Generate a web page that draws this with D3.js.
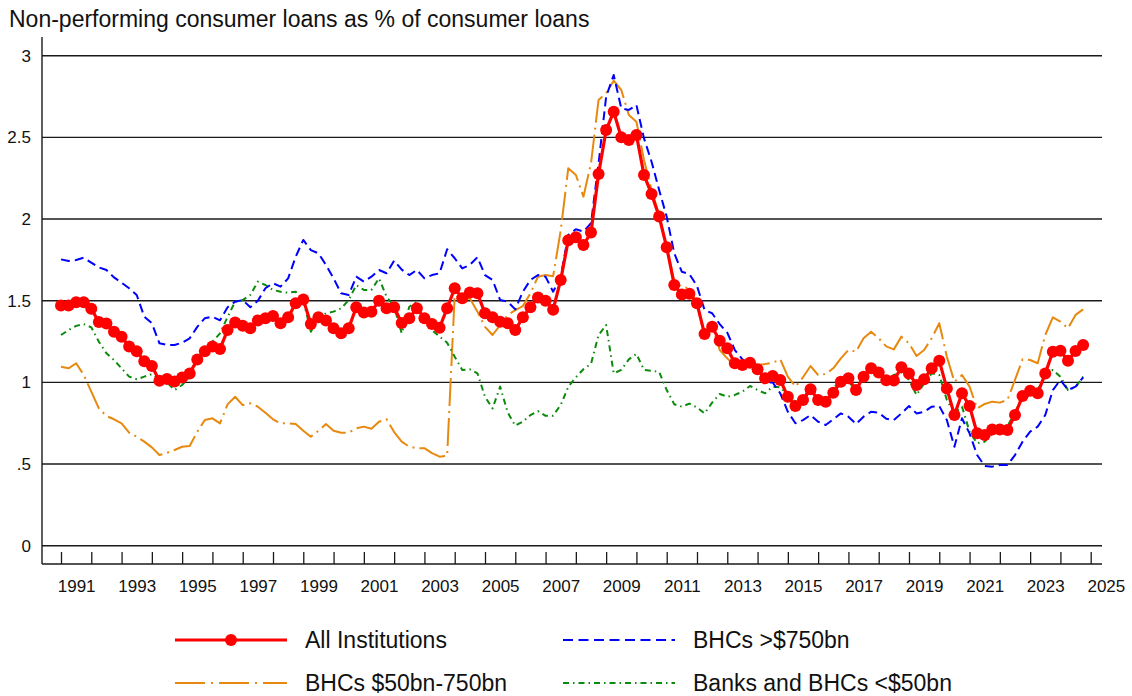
<!DOCTYPE html>
<html>
<head>
<meta charset="utf-8">
<script src="https://cdn.jsdelivr.net/npm/d3@7"></script>
<style>
  html, body { margin: 0; padding: 0; background: #ffffff; }
  svg { display: block; }
  text { font-family: "Liberation Sans", Arial, Helvetica, sans-serif; fill: #111; }
</style>
</head>
<body>
<svg id="chart" width="1132" height="696"></svg>
<script>
// ---------------- DATA (quarterly, 1991Q1 .. 2024Q4) ----------------
const startYear = 1991;
const title = "Non-performing consumer loans as % of consumer loans";
const yTicks = [0, 0.5, 1, 1.5, 2, 2.5, 3];
const yTickLabels = ["0", ".5", "1", "1.5", "2", "2.5", "3"];
const xLabelYears = [1991, 1993, 1995, 1997, 1999, 2001, 2003, 2005, 2007, 2009, 2011, 2013, 2015, 2017, 2019, 2021, 2023, 2025];
const xTickYears = d3.range(1991, 2026);

const allInstitutions = [
  1.47, 1.47, 1.49, 1.49, 1.45, 1.37, 1.36, 1.31, 1.28, 1.22, 1.19, 1.13, 1.10, 1.01, 1.02, 1.005,
  1.03, 1.055, 1.14, 1.19, 1.22, 1.205, 1.32, 1.366, 1.346, 1.332, 1.379, 1.393, 1.407, 1.362, 1.399, 1.484,
  1.508, 1.357, 1.399, 1.379, 1.332, 1.30, 1.332, 1.46, 1.427, 1.433, 1.50, 1.454, 1.46, 1.363, 1.393, 1.454,
  1.393, 1.357, 1.335, 1.454, 1.576, 1.515, 1.55, 1.545, 1.423, 1.399, 1.371, 1.362, 1.32, 1.399, 1.46, 1.52,
  1.50, 1.445, 1.627, 1.87, 1.888, 1.841, 1.917, 2.276, 2.545, 2.657, 2.50, 2.484, 2.515, 2.27, 2.153, 2.015,
  1.827, 1.596, 1.538, 1.543, 1.484, 1.296, 1.341, 1.255, 1.209, 1.117, 1.106, 1.12, 1.08, 1.025, 1.039, 1.015,
  0.912, 0.855, 0.892, 0.958, 0.892, 0.882, 0.937, 1.004, 1.025, 0.953, 1.035, 1.086, 1.06, 1.013, 1.011, 1.092,
  1.055, 0.984, 1.019, 1.086, 1.133, 0.963, 0.80, 0.933, 0.855, 0.688, 0.678, 0.712, 0.712, 0.708, 0.80, 0.917,
  0.949, 0.933, 1.055, 1.188, 1.194, 1.133, 1.192, 1.229
];

const bhcsLarge = [
  1.753, 1.743, 1.749, 1.763, 1.733, 1.704, 1.688, 1.643, 1.61, 1.576, 1.535, 1.402, 1.362, 1.239, 1.229, 1.229,
  1.243, 1.27, 1.34, 1.393, 1.402, 1.38, 1.46, 1.494, 1.504, 1.46, 1.50, 1.576, 1.607, 1.586, 1.637, 1.769,
  1.872, 1.81, 1.79, 1.719, 1.637, 1.545, 1.535, 1.647, 1.617, 1.647, 1.688, 1.668, 1.745, 1.69, 1.657, 1.688,
  1.637, 1.657, 1.668, 1.815, 1.76, 1.698, 1.719, 1.766, 1.657, 1.627, 1.504, 1.494, 1.447, 1.555, 1.627, 1.657,
  1.647, 1.555, 1.645, 1.902, 1.937, 1.923, 1.974, 2.34, 2.749, 2.882, 2.678, 2.668, 2.698, 2.494, 2.351, 2.178,
  2.014, 1.79, 1.677, 1.663, 1.59, 1.443, 1.423, 1.357, 1.304, 1.198, 1.141, 1.112, 1.086, 0.999, 0.999, 0.933,
  0.82, 0.75, 0.769, 0.80, 0.759, 0.739, 0.774, 0.81, 0.79, 0.745, 0.79, 0.82, 0.814, 0.777, 0.769, 0.81,
  0.855, 0.81, 0.82, 0.851, 0.855, 0.769, 0.606, 0.78, 0.688, 0.555, 0.488, 0.484, 0.494, 0.494, 0.555, 0.637,
  0.698, 0.729, 0.80, 0.953, 1.015, 0.953, 0.974, 1.031
];

const bhcsMid = [
  1.096, 1.086, 1.117, 1.046, 0.943, 0.841, 0.794, 0.774, 0.749, 0.692, 0.667, 0.637, 0.602, 0.555, 0.569, 0.586,
  0.606, 0.61, 0.698, 0.77, 0.78, 0.749, 0.865, 0.912, 0.861, 0.872, 0.851, 0.814, 0.774, 0.749, 0.749, 0.745,
  0.704, 0.667, 0.704, 0.745, 0.704, 0.692, 0.692, 0.718, 0.729, 0.716, 0.759, 0.774, 0.696, 0.637, 0.606, 0.597,
  0.597, 0.567, 0.545, 0.55, 1.535, 1.504, 1.515, 1.433, 1.34, 1.29, 1.351, 1.412, 1.442, 1.467, 1.545, 1.647,
  1.657, 1.65, 1.93, 2.311, 2.27, 2.137, 2.341, 2.729, 2.77, 2.847, 2.79, 2.637, 2.596, 2.362, 2.178, 2.024,
  1.831, 1.616, 1.585, 1.576, 1.484, 1.28, 1.351, 1.198, 1.147, 1.10, 1.117, 1.137, 1.106, 1.112, 1.12, 1.141,
  1.035, 0.974, 1.031, 1.10, 1.045, 1.051, 1.086, 1.147, 1.198, 1.188, 1.27, 1.31, 1.27, 1.22, 1.202, 1.28,
  1.239, 1.161, 1.198, 1.27, 1.362, 1.157, 1.004, 1.045, 0.974, 0.841, 0.868, 0.882, 0.876, 0.892, 1.015, 1.141,
  1.137, 1.117, 1.29, 1.398, 1.372, 1.331, 1.413, 1.447
];

const banksSmall = [
  1.29, 1.32, 1.346, 1.357, 1.337, 1.249, 1.178, 1.137, 1.086, 1.035, 1.019, 1.035, 1.051, 1.019, 1.00, 0.953,
  0.984, 1.035, 1.137, 1.198, 1.249, 1.30, 1.40, 1.494, 1.504, 1.535, 1.617, 1.596, 1.566, 1.555, 1.549, 1.555,
  1.504, 1.31, 1.402, 1.423, 1.433, 1.453, 1.504, 1.596, 1.566, 1.566, 1.637, 1.525, 1.463, 1.30, 1.463, 1.494,
  1.382, 1.32, 1.28, 1.243, 1.157, 1.076, 1.08, 1.055, 0.912, 0.841, 0.974, 0.816, 0.735, 0.759, 0.80, 0.824,
  0.795, 0.796, 0.862, 0.973, 1.031, 1.08, 1.113, 1.29, 1.351, 1.055, 1.076, 1.141, 1.174, 1.076, 1.071, 1.065,
  0.953, 0.866, 0.851, 0.87, 0.846, 0.81, 0.876, 0.929, 0.912, 0.923, 0.943, 0.978, 0.953, 0.933, 0.974, 0.97,
  0.923, 0.882, 0.902, 0.974, 0.912, 0.868, 0.963, 1.015, 1.004, 0.953, 1.035, 1.076, 1.055, 1.015, 1.045, 1.06,
  1.015, 0.923, 0.994, 1.055, 1.045, 0.892, 0.81, 0.851, 0.698, 0.627, 0.637, 0.684, 0.705, 0.729, 0.82, 0.902,
  0.923, 0.953, 1.045, 1.076, 1.035, 0.953, 0.97, 1.035
];

const seriesNames = ["All Institutions", "BHCs >$750bn", "BHCs $50bn-750bn", "Banks and BHCs <$50bn"];

// ---------------- LAYOUT ----------------
const W = 1132, H = 696;
const plotLeft = 42, plotRight = 1102, plotTop = 37, axisY = 564;

const svg = d3.select("#chart");

// quarter positions: each quarter plotted at year + (q-1)/4
const quarterPos = allInstitutions.map((_, i) => startYear + i / 4);

const x = d3.scaleLinear().domain([1991, 2025]).range([61, 1090.7]);
const y = d3.scaleLinear().domain([0, 3]).range([545.7, 55.7]);

// title
svg.append("text")
  .attr("x", 9).attr("y", 27)
  .attr("font-size", 23)
  .text(title);

// gridlines
svg.append("g").selectAll("line").data(yTicks).join("line")
  .attr("x1", plotLeft).attr("x2", plotRight)
  .attr("y1", d => y(d)).attr("y2", d => y(d))
  .attr("stroke", "#1a1a1a").attr("stroke-width", 1.4);

// y axis (left)
const yAxis = d3.axisLeft(y).tickValues(yTicks)
  .tickFormat((d, i) => yTickLabels[i]).tickSize(0).tickPadding(11);
const gy = svg.append("g").attr("transform", `translate(${plotLeft},0)`).call(yAxis);
gy.select(".domain").remove();
gy.selectAll("text").attr("font-size", 17).attr("fill", "#111")
  .attr("font-family", '"Liberation Sans", Arial, sans-serif');
svg.append("line")
  .attr("x1", plotLeft).attr("x2", plotLeft)
  .attr("y1", plotTop).attr("y2", axisY)
  .attr("stroke", "#1a1a1a").attr("stroke-width", 1.4);

// x axis (bottom) with inward ticks at year starts
svg.append("line")
  .attr("x1", plotLeft).attr("x2", plotRight)
  .attr("y1", axisY).attr("y2", axisY)
  .attr("stroke", "#1a1a1a").attr("stroke-width", 1.4);
const xTickAxis = d3.axisTop(x).tickValues(xTickYears).tickSize(12).tickFormat("");
const gxt = svg.append("g").attr("transform", `translate(0,${axisY})`).call(xTickAxis);
gxt.select(".domain").remove();
gxt.selectAll("line").attr("stroke", "#1a1a1a").attr("stroke-width", 1.3);

// year labels centered within each labelled year
const xLabelAxis = d3.axisBottom(x).tickValues(xLabelYears).tickSize(0).tickPadding(0)
  .tickFormat(d3.format("d"));
const gxl = svg.append("g").attr("transform", `translate(${x(1991.5) - x(1991)},${axisY + 16})`).call(xLabelAxis);
gxl.select(".domain").remove();
gxl.selectAll("text").attr("font-size", 17).attr("fill", "#111")
  .attr("font-family", '"Liberation Sans", Arial, sans-serif');

// ---------------- SERIES ----------------
const styles = [
  { values: bhcsMid,    color: "#e8890f", width: 2,   dash: "28,5,2,5" },
  { values: banksSmall, color: "#0b8a0b", width: 2,   dash: "6,4,1.5,4" },
  { values: bhcsLarge,  color: "#0000ff", width: 2,   dash: "9,5" },
  { values: allInstitutions, color: "#ff0000", width: 3.2, dash: null }
];

const line = d3.line().x((d, i) => x(quarterPos[i])).y(d => y(d));

styles.forEach(s => {
  svg.append("path")
    .datum(s.values)
    .attr("d", line)
    .attr("fill", "none")
    .attr("stroke", s.color)
    .attr("stroke-width", s.width)
    .attr("stroke-linejoin", "round")
    .attr("stroke-dasharray", s.dash);
});

svg.append("g").selectAll("circle").data(allInstitutions).join("circle")
  .attr("cx", (d, i) => x(quarterPos[i]))
  .attr("cy", d => y(d))
  .attr("r", 6)
  .attr("fill", "#ff0000");

// ---------------- LEGEND ----------------
const legendItems = [
  { name: seriesNames[0], color: "#ff0000", width: 3.2, dash: null, marker: true, lx: 175, ly: 640 },
  { name: seriesNames[1], color: "#0000ff", width: 2, dash: "10,5.5", marker: false, lx: 563, ly: 640 },
  { name: seriesNames[2], color: "#e8890f", width: 2, dash: "30,6,2,6", marker: false, lx: 175, ly: 683 },
  { name: seriesNames[3], color: "#0b8a0b", width: 2, dash: "6,4,1.5,4", marker: false, lx: 563, ly: 683 }
];
const legendLineLen = 112;
const lg = svg.append("g");
legendItems.forEach(it => {
  lg.append("line")
    .attr("x1", it.lx).attr("x2", it.lx + legendLineLen)
    .attr("y1", it.ly).attr("y2", it.ly)
    .attr("stroke", it.color).attr("stroke-width", it.width)
    .attr("stroke-dasharray", it.dash);
  if (it.marker) {
    lg.append("circle").attr("cx", it.lx + legendLineLen / 2).attr("cy", it.ly)
      .attr("r", 6).attr("fill", it.color);
  }
  lg.append("text")
    .attr("x", it.lx + 130).attr("y", it.ly + 8)
    .attr("font-size", 23)
    .text(it.name);
});
</script>
</body>
</html>
